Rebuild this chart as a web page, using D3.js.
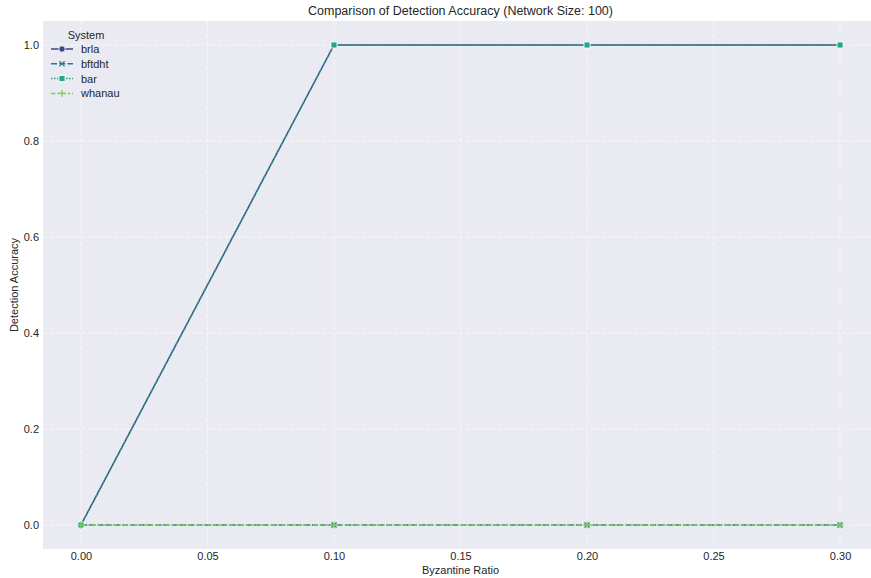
<!DOCTYPE html>
<html>
<head>
<meta charset="utf-8">
<script src="https://cdn.jsdelivr.net/npm/d3@7"></script>
<style>
  html, body { margin: 0; padding: 0; background: #ffffff; }
  svg { display: block; font-family: "Liberation Sans", Arial, sans-serif; }
</style>
</head>
<body>
<svg id="chart" width="871" height="578"></svg>
<script>
// Byzantine ratios tested and detection accuracy per system
const ratios = [0.0, 0.1, 0.2, 0.3];
const systems = ["brla", "bftdht", "bar", "whanau"];
const brla = [0.0, 1.0, 1.0, 1.0];
const bftdht = [0.0, 0.0, 0.0, 0.0];
const bar = [0.0, 1.0, 1.0, 1.0];
const whanau = [0.0, 0.0, 0.0, 0.0];
const xTicks = [0.0, 0.05, 0.10, 0.15, 0.20, 0.25, 0.30];
const yTicks = [0.0, 0.2, 0.4, 0.6, 0.8, 1.0];

(function () {
const seriesValues = { brla, bftdht, bar, whanau };
const colors = { brla: "#414487", bftdht: "#2a788e", bar: "#22a884", whanau: "#7ad151" };
const dashes = { brla: null, bftdht: "6,2.25", bar: "1.5,1.5", whanau: "4.5,1.9,2.25,1.9" };
const markers = { brla: "circle", bftdht: "x", bar: "square", whanau: "plus" };

const svg = d3.select("#chart");
const pLeft = 43, pRight = 878, pTop = 21, pBottom = 549;

const x = d3.scaleLinear().domain([-0.015, 0.315]).range([pLeft, pRight]);
const y = d3.scaleLinear().domain([-0.05, 1.05]).range([pBottom, pTop]);

// plot background
svg.append("rect").attr("x", pLeft).attr("y", pTop)
  .attr("width", pRight - pLeft).attr("height", pBottom - pTop)
  .attr("fill", "#eaeaf2");

// dashed grid
const grid = svg.append("g");
grid.selectAll("line.gx").data(xTicks).join("line")
  .attr("x1", d => x(d)).attr("x2", d => x(d))
  .attr("y1", pTop).attr("y2", pBottom)
  .attr("stroke", "#ffffff").attr("stroke-width", 1)
  .attr("stroke-dasharray", "4,2.5").attr("opacity", 0.6);
grid.selectAll("line.gy").data(yTicks).join("line")
  .attr("x1", pLeft).attr("x2", pRight)
  .attr("y1", d => y(d)).attr("y2", d => y(d))
  .attr("stroke", "#ffffff").attr("stroke-width", 1)
  .attr("stroke-dasharray", "4,2.5").attr("opacity", 0.6);

// axes (labels only, darkgrid style has no spines or tick marks)
const xAxis = svg.append("g").attr("transform", `translate(0,${pBottom})`)
  .call(d3.axisBottom(x).tickValues(xTicks).tickFormat(d3.format(".2f")).tickSize(0).tickPadding(3));
const yAxis = svg.append("g").attr("transform", `translate(${pLeft},0)`)
  .call(d3.axisLeft(y).tickValues(yTicks).tickFormat(d3.format(".1f")).tickSize(0).tickPadding(4));
[xAxis, yAxis].forEach(a => {
  a.select(".domain").remove();
  a.selectAll("text").attr("fill", "#262626").style("font-size", "11px")
    .style("font-family", "'Liberation Sans', Arial, sans-serif");
});

// series
svg.append("clipPath").attr("id", "plotclip").append("rect")
  .attr("x", pLeft).attr("y", pTop).attr("width", pRight - pLeft).attr("height", pBottom - pTop);
const plot = svg.append("g").attr("clip-path", "url(#plotclip)");

const line = d3.line().x(d => x(d[0])).y(d => y(d[1]));

function drawMarker(g, type, cx, cy, color) {
  if (type === "circle") {
    g.append("circle").attr("cx", cx).attr("cy", cy).attr("r", 3.2)
      .attr("fill", color).attr("stroke", "#ffffff").attr("stroke-width", 0.8);
  } else if (type === "square") {
    g.append("rect").attr("x", cx - 3).attr("y", cy - 3).attr("width", 6).attr("height", 6)
      .attr("fill", color).attr("stroke", "#ffffff").attr("stroke-width", 0.8);
  } else if (type === "x") {
    const s = 2.6;
    g.append("path").attr("d", `M${cx - s},${cy - s}L${cx + s},${cy + s}M${cx - s},${cy + s}L${cx + s},${cy - s}`)
      .attr("stroke", color).attr("stroke-width", 1.2).attr("fill", "none");
  } else if (type === "plus") {
    const s = 3.4;
    g.append("path").attr("d", `M${cx - s},${cy}L${cx + s},${cy}M${cx},${cy - s}L${cx},${cy + s}`)
      .attr("stroke", color).attr("stroke-width", 1.3).attr("fill", "none");
  }
}

systems.forEach(name => {
  const pts = ratios.map((r, i) => [r, seriesValues[name][i]]);
  const g = plot.append("g");
  g.append("path").datum(pts).attr("d", line)
    .attr("fill", "none").attr("stroke", colors[name]).attr("stroke-width", 1.5)
    .attr("stroke-dasharray", dashes[name]);
  pts.forEach(p => drawMarker(g, markers[name], x(p[0]), y(p[1]), colors[name]));
});

// legend
const lg = svg.append("g");
lg.append("text").attr("x", 86).attr("y", 39).attr("text-anchor", "middle")
  .attr("fill", "#262626").style("font-size", "11px").text("System");
systems.forEach((name, i) => {
  const yy = 49 + i * 14.8;
  lg.append("line").attr("x1", 51).attr("x2", 73).attr("y1", yy).attr("y2", yy)
    .attr("stroke", colors[name]).attr("stroke-width", 1.5).attr("stroke-dasharray", dashes[name]);
  drawMarker(lg, markers[name], 62, yy, colors[name]);
  lg.append("text").attr("x", 81).attr("y", yy + 4).attr("fill", "#262626")
    .style("font-size", "11px").text(name);
});

// titles
svg.append("text").attr("x", (pLeft + pRight) / 2).attr("y", 15).attr("text-anchor", "middle")
  .attr("fill", "#262626").style("font-size", "12.5px").text("Comparison of Detection Accuracy (Network Size: 100)");
svg.append("text").attr("x", (pLeft + pRight) / 2).attr("y", 574).attr("text-anchor", "middle")
  .attr("fill", "#262626").style("font-size", "11px").text("Byzantine Ratio");
svg.append("text").attr("transform", `translate(18,${(pTop + pBottom) / 2}) rotate(-90)`)
  .attr("text-anchor", "middle").attr("fill", "#262626").style("font-size", "11px").text("Detection Accuracy");
})();
</script>
</body>
</html>
